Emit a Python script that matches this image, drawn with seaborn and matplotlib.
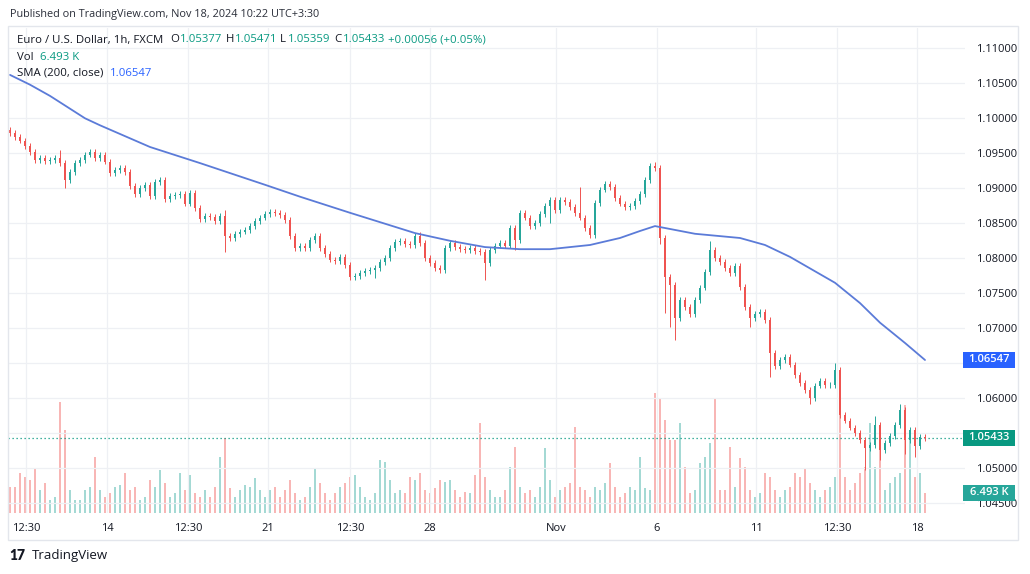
import numpy as np
import matplotlib
matplotlib.use("Agg")
import matplotlib.pyplot as plt
import matplotlib.transforms as mtrans
from matplotlib.patches import Rectangle
import seaborn as sns

# ---------------- data (EUR/USD, bars of ~3.7h) ----------------
first_open = 1.0983
closes = [
    1.0979, 1.0973, 1.0968, 1.0960, 1.0952, 1.0940, 1.0943, 1.0939, 1.0940, 1.0943,
    1.0936, 1.0912, 1.0923, 1.0936, 1.0940, 1.0948, 1.0952, 1.0943, 1.0948, 1.0938,
    1.0922, 1.0926, 1.0929, 1.0923, 1.0903, 1.0892, 1.0900, 1.0905, 1.0889, 1.0909,
    1.0912, 1.0885, 1.0889, 1.0890, 1.0892, 1.0878, 1.0893, 1.0872, 1.0856, 1.0860,
    1.0859, 1.0853, 1.0860, 1.0832, 1.0829, 1.0835, 1.0838, 1.0840, 1.0846, 1.0853,
    1.0858, 1.0863, 1.0866, 1.0865, 1.0862, 1.0855, 1.0832, 1.0815, 1.0818, 1.0815,
    1.0826, 1.0832, 1.0815, 1.0806, 1.0798, 1.0796, 1.0802, 1.0790, 1.0773, 1.0775,
    1.0779, 1.0782, 1.0783, 1.0786, 1.0795, 1.0800, 1.0815, 1.0823, 1.0825, 1.0820,
    1.0819, 1.0832, 1.0822, 1.0800, 1.0793, 1.0786, 1.0783, 1.0815, 1.0822, 1.0816,
    1.0813, 1.0812, 1.0815, 1.0810, 1.0809, 1.0793, 1.0812, 1.0818, 1.0822, 1.0818,
    1.0843, 1.0826, 1.0865, 1.0858, 1.0846, 1.0850, 1.0863, 1.0875, 1.0883, 1.0869,
    1.0883, 1.0880, 1.0873, 1.0865, 1.0858, 1.0843, 1.0833, 1.0879, 1.0898, 1.0906,
    1.0902, 1.0886, 1.0878, 1.0873, 1.0875, 1.0882, 1.0892, 1.0912, 1.0932, 1.0929,
    1.0829, 1.0773, 1.0762, 1.0715, 1.0740, 1.0730, 1.0720, 1.0740, 1.0758, 1.0780,
    1.0812, 1.0800, 1.0795, 1.0786, 1.0779, 1.0789, 1.0759, 1.0730, 1.0715, 1.0720,
    1.0723, 1.0712, 1.0665, 1.0646, 1.0655, 1.0659, 1.0648, 1.0633, 1.0622, 1.0612,
    1.0600, 1.0618, 1.0625, 1.0619, 1.0619, 1.0640, 1.0576, 1.0568, 1.0558, 1.0550,
    1.0540, 1.0529, 1.0533, 1.0562, 1.0526, 1.0536, 1.0546, 1.0562, 1.0583, 1.0540,
    1.0555, 1.0532, 1.0545, 1.05433,
]
# wicks that reach well beyond the body (bar index -> price)
spike_highs = {10: 1.0955, 43: 1.0869, 82: 1.0838, 114: 1.0902, 129: 1.0938,
               140: 1.0825, 165: 1.0650, 173: 1.0575, 178: 1.0592}
spike_lows = {11: 1.0900, 43: 1.0809, 73: 1.0772, 95: 1.0769, 101: 1.0812,
              108: 1.0850, 130: 1.0820, 131: 1.0722, 132: 1.0702, 133: 1.0683,
              148: 1.0702, 152: 1.0630, 160: 1.0592, 171: 1.0498, 174: 1.0512,
              179: 1.0520, 181: 1.0516}
wick_pips = 4

volumes_k = [
    8.4, 8.4, 12.9, 11.6, 10.6, 14.5, 7.4, 9.7, 4.2, 5.2,
    35.8, 26.8, 7.4, 4.2, 4.2, 7.4, 8.4, 18.1, 7.4, 5.2,
    6.5, 8.4, 9.0, 12.9, 7.4, 8.4, 4.2, 5.2, 10.6, 8.4,
    13.9, 9.7, 5.2, 6.5, 12.9, 7.4, 12.3, 6.5, 5.2, 7.4,
    5.2, 8.4, 18.1, 24.2, 8.0, 5.2, 7.4, 9.0, 8.4, 11.3,
    7.4, 5.2, 7.4, 8.4, 5.2, 7.4, 10.6, 6.5, 4.2, 5.2,
    8.4, 14.5, 9.7, 6.5, 4.2, 6.5, 8.4, 9.7, 11.6, 12.3,
    8.4, 5.2, 4.2, 6.5, 17.1, 16.5, 10.6, 6.5, 7.4, 6.5,
    11.6, 10.6, 12.9, 7.4, 6.5, 8.1, 10.6, 10.0, 10.6, 7.4,
    5.2, 6.8, 6.5, 12.3, 29.0, 11.6, 7.4, 5.2, 5.2, 7.4,
    14.8, 21.3, 8.4, 6.5, 7.4, 5.2, 8.4, 21.0, 10.6, 5.2,
    7.4, 8.4, 9.7, 27.7, 8.4, 7.4, 5.2, 8.4, 7.4, 9.7,
    16.1, 8.4, 5.2, 6.5, 8.4, 7.4, 18.1, 8.1, 7.4, 38.7,
    37.0, 30.0, 23.5, 23.5, 29.0, 14.8, 6.5, 7.4, 16.1, 18.1,
    22.6, 37.1, 7.4, 7.4, 21.3, 8.4, 17.7, 14.8, 7.4, 5.2,
    6.5, 12.9, 11.6, 7.4, 5.2, 7.4, 8.4, 12.9, 11.6, 14.5,
    9.7, 7.4, 5.2, 7.4, 8.4, 11.6, 35.5, 11.6, 7.4, 9.7,
    12.9, 14.8, 29.0, 14.8, 23.5, 7.4, 9.7, 11.6, 12.9, 34.8,
    23.5, 11.6, 12.9, 6.493,
]

sma_idx = [0, 4, 8, 15, 18, 28, 38, 51, 58, 68, 81, 88, 95, 102, 108, 116, 122,
           126, 129, 137, 146, 151, 156, 165, 170, 174, 179, 183]
sma_val = [1.1062, 1.1048, 1.1032, 1.1000, 1.0990, 1.0959, 1.0936, 1.0905, 1.0888,
           1.0865, 1.0836, 1.0825, 1.0816, 1.0813, 1.0813, 1.0819, 1.0829, 1.0839,
           1.0846, 1.0835, 1.0829, 1.0819, 1.0802, 1.0765, 1.0736, 1.0708, 1.0679,
           1.06547]

price_ticks = [1.045, 1.050, 1.055, 1.060, 1.065, 1.070, 1.075, 1.080,
               1.085, 1.090, 1.095, 1.100, 1.105, 1.110]
# labels hidden behind the last-value boxes on the price scale
hidden_price_labels = [1.055, 1.065]
time_tick_pos = [3.2, 19.4, 35.6, 51.6, 68, 84, 109.2, 129.4, 149.2, 165.4, 181.4]
time_tick_labels = ["12:30", "14", "12:30", "21", "12:30", "28", "Nov", "6", "11",
                    "12:30", "18"]

last_close = 1.05433
last_sma = 1.06547
last_vol = 6.493

# ---------------- style ----------------
sns.set_theme(style="white")
plt.rcParams['font.family'] = ['Open Sans', 'DejaVu Sans']

UP = '#26a69a'
DOWN = '#ef5350'
TXT = '#131722'
GRID = '#eef0f4'

W, H = 1030, 574
fig = plt.figure(figsize=(W / 100, H / 100), dpi=100, facecolor='white')

def fx(px):
    return px / W

def fy(py):
    return 1 - py / H

rect = [fx(8), fy(513), fx(965) - fx(8), fy(28) - fy(513)]

axv = fig.add_axes(rect)   # volume pane (underneath)
ax = fig.add_axes(rect)    # price pane (on top)
ax.patch.set_visible(False)

n = len(closes)
idx = np.arange(n)
c = np.array(closes)
o = np.array([first_open] + closes[:-1])
up = c >= o
colors = np.where(up, UP, DOWN)
top = np.maximum(o, c)
bot = np.minimum(o, c)
hi = top + wick_pips * 0.0001
lo = bot - wick_pips * 0.0001
for k, v in spike_highs.items():
    hi[k] = max(hi[k], v)
for k, v in spike_lows.items():
    lo[k] = min(lo[k], v)

ax.set_xlim(-0.4, 191)
ax.set_ylim(1.04361, 1.1129)
axv.set_xlim(-0.4, 191)
axv.set_ylim(0, 156.5)

ax.set_yticks(price_ticks)
ax.set_yticklabels(["" if any(abs(p - h) < 1e-9 for h in hidden_price_labels)
                    else f"{p:.5f}" for p in price_ticks])
ax.yaxis.tick_right()
ax.set_xticks(time_tick_pos)
ax.set_xticklabels(time_tick_labels)
ax.tick_params(axis='y', length=0, pad=8, labelsize=8, labelcolor=TXT)
ax.tick_params(axis='x', length=0, pad=7, labelsize=8, labelcolor=TXT)
ax.grid(True, color=GRID, lw=0.9)
ax.set_axisbelow(True)
for s in list(ax.spines.values()) + list(axv.spines.values()):
    s.set_visible(False)
axv.set_xticks([])
axv.set_yticks([])

# volume bars
axv.bar(idx, volumes_k, width=0.5, color=np.where(up, '#26a69a', '#ef5350'),
        alpha=0.42, linewidth=0)

# candles
ax.vlines(idx, lo, hi, colors=colors, lw=0.7, zorder=3)
ax.bar(idx, np.maximum(top - bot, 0.00005), bottom=bot, width=0.5,
       color=colors, linewidth=0, zorder=4)

# SMA 200
sns.lineplot(x=sma_idx, y=sma_val, ax=ax, color='#5b7bd8', lw=1.3, zorder=5)

# last price dotted line
ax.axhline(last_close, color='#089981', lw=0.9, ls=(0, (1, 2.2)), zorder=2)

# price scale value boxes
def value_box(target_ax, yval, text, fc):
    tr = mtrans.blended_transform_factory(fig.transFigure, target_ax.transData)
    inv = target_ax.transData.inverted()
    dy = abs(inv.transform((0, 0))[1] - inv.transform((0, 8))[1])
    fig.add_artist(Rectangle((fx(963), yval - dy), fx(1015) - fx(963), 2 * dy,
                             transform=tr, facecolor=fc, edgecolor='none',
                             clip_on=False, zorder=10))
    txt = fig.text(0, 0, text, transform=tr, ha='center', va='center',
                   color='white', fontsize=8, fontweight='semibold', zorder=11)
    txt.set_position((fx(989), yval))

value_box(ax, last_sma, "1.06547", '#2962ff')
value_box(ax, last_close, "1.05433", '#089981')
value_box(axv, last_vol, "6.493 K", '#26a69a')

# header texts
def t(x, y, s, color=TXT, size=8.2, **kw):
    fig.text(fx(x), fy(y), s, color=color, fontsize=size, va='center', ha='left', **kw)

GREEN = '#089981'
t(10, 14, "Published on TradingView.com, Nov 18, 2024 10:22 UTC+3:30", color='#2a2e39', size=7.8)
t(17, 40, "Euro / U.S. Dollar, 1h, FXCM")
t(170, 40, "O")
t(180, 40, "1.05377", color=GREEN)
t(226, 40, "H")
t(235, 40, "1.05471", color=GREEN)
t(280, 40, "L")
t(288, 40, "1.05359", color=GREEN)
t(334, 40, "C")
t(343, 40, "1.05433", color=GREEN)
t(388, 40, "+0.00056 (+0.05%)", color=GREEN)
t(17, 57, "Vol")
t(40, 57, "6.493 K", color=GREEN)
t(17, 73, "SMA (200, close)")
t(110, 73, "1.06547", color='#2962ff')

# outer frame
fig.add_artist(Rectangle((fx(8), fy(540)), fx(1018) - fx(8), (540 - 26) / H,
                         transform=fig.transFigure, fill=False,
                         edgecolor='#e3e6ec', lw=1.0))

# footer logo
fig.text(fx(9), fy(556), "17", color=TXT, fontsize=10, fontweight='heavy',
         va='center', ha='left', family=['Lato', 'DejaVu Sans'])
fig.text(fx(32), fy(556), "TradingView", color=TXT, fontsize=9.5,
         va='center', ha='left')

fig.savefig("out.png", dpi=100, facecolor='white')
